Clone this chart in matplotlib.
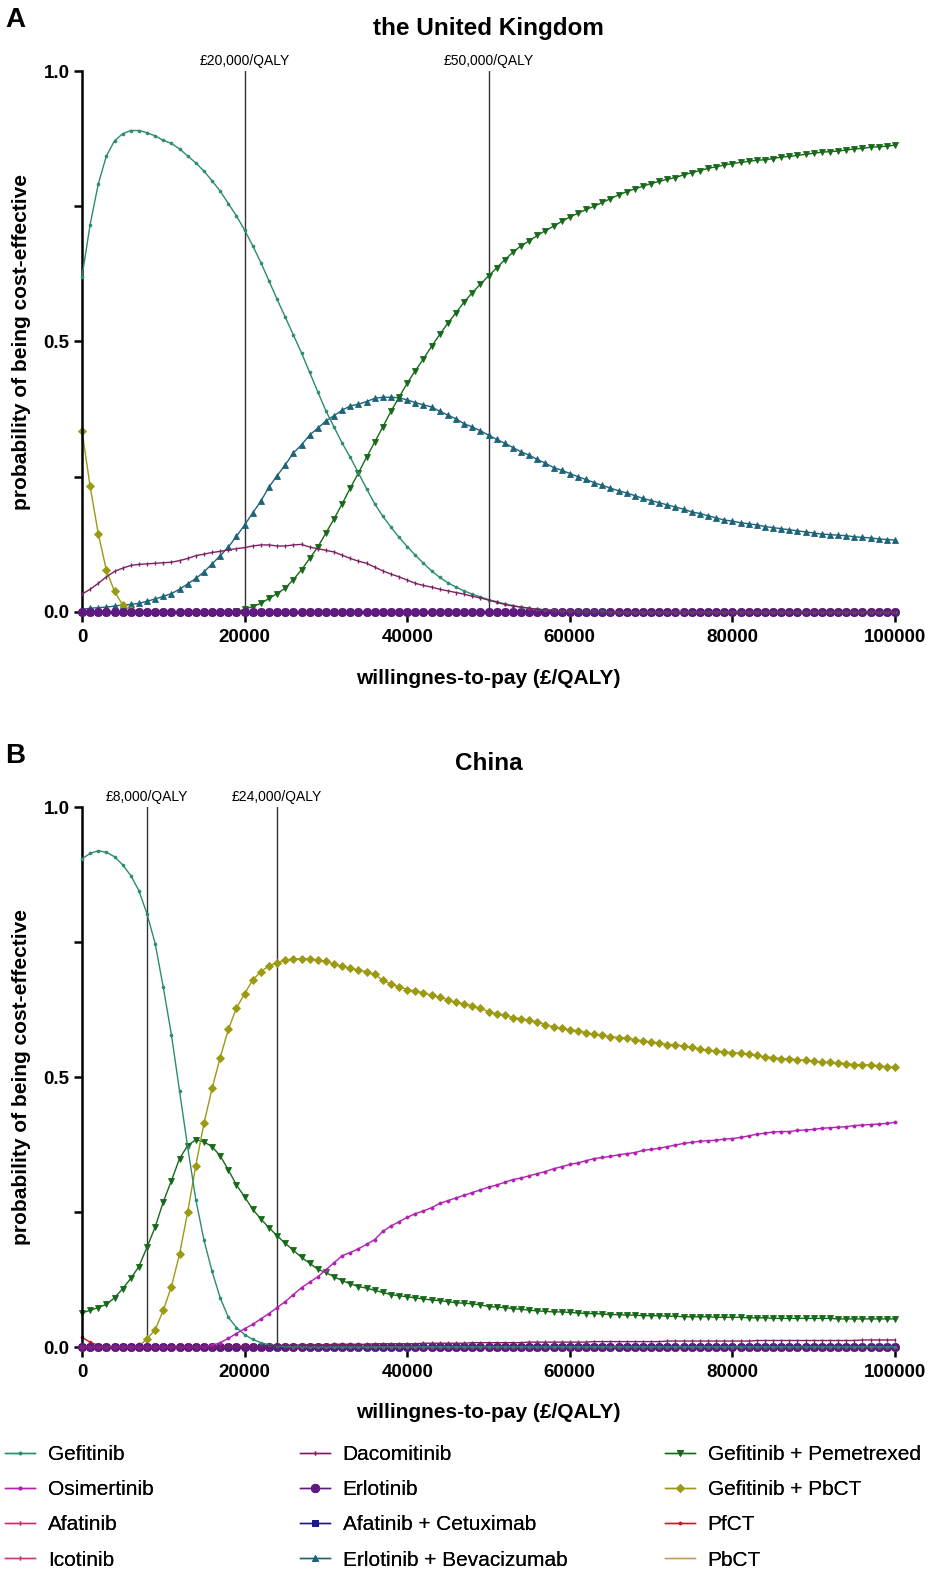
import matplotlib
matplotlib.use("Agg")
import matplotlib.pyplot as plt

plt.rcParams['font.family'] = ['Liberation Sans', 'DejaVu Sans']

# willingness-to-pay grid (GBP/QALY), one point every 1000
wtp = list(range(0, 100001, 1000))

treatments = ["Gefitinib", "Osimertinib", "Afatinib", "Icotinib",
              "Dacomitinib", "Erlotinib", "Afatinib + Cetuximab", "Erlotinib + Bevacizumab",
              "Gefitinib + Pemetrexed", "Gefitinib + PbCT", "PfCT", "PbCT"]

# ---- panel A: the United Kingdom ----
uk_gefitinib = [
    0.620, 0.716, 0.791, 0.843, 0.871, 0.884, 0.890, 0.890, 0.886, 0.880,
    0.872, 0.866, 0.856, 0.843, 0.830, 0.815, 0.797, 0.778, 0.755, 0.732,
    0.706, 0.677, 0.646, 0.612, 0.578, 0.545, 0.512, 0.479, 0.443, 0.407,
    0.372, 0.342, 0.312, 0.286, 0.257, 0.228, 0.200, 0.177, 0.157, 0.138,
    0.121, 0.105, 0.090, 0.076, 0.064, 0.054, 0.046, 0.039, 0.033, 0.028,
    0.023, 0.019, 0.015, 0.012, 0.009, 0.007, 0.005, 0.004, 0.003, 0.002,
    0.002, 0.001, 0.001, 0.001, 0.001, 0.0, 0.0, 0.0, 0.0, 0.0,
    0.0, 0.0, 0.0, 0.0, 0.0, 0.0, 0.0, 0.0, 0.0, 0.0,
    0.0, 0.0, 0.0, 0.0, 0.0, 0.0, 0.0, 0.0, 0.0, 0.0,
    0.0, 0.0, 0.0, 0.0, 0.0, 0.0, 0.0, 0.0, 0.0, 0.0,
    0.0]
uk_dacomitinib = [
    0.033, 0.042, 0.053, 0.065, 0.075, 0.081, 0.086, 0.088, 0.089, 0.090,
    0.091, 0.092, 0.095, 0.099, 0.104, 0.107, 0.110, 0.112, 0.115, 0.117,
    0.119, 0.122, 0.124, 0.124, 0.122, 0.122, 0.124, 0.125, 0.120, 0.117,
    0.114, 0.111, 0.105, 0.099, 0.094, 0.090, 0.083, 0.076, 0.070, 0.065,
    0.059, 0.053, 0.049, 0.046, 0.042, 0.039, 0.036, 0.033, 0.029, 0.026,
    0.022, 0.018, 0.014, 0.011, 0.009, 0.007, 0.005, 0.004, 0.003, 0.002,
    0.002, 0.001, 0.001, 0.001, 0.0, 0.0, 0.0, 0.0, 0.0, 0.0,
    0.0, 0.0, 0.0, 0.0, 0.0, 0.0, 0.0, 0.0, 0.0, 0.0,
    0.0, 0.0, 0.0, 0.0, 0.0, 0.0, 0.0, 0.0, 0.0, 0.0,
    0.0, 0.0, 0.0, 0.0, 0.0, 0.0, 0.0, 0.0, 0.0, 0.0,
    0.0]
uk_erl_bev = [
    0.005, 0.007, 0.008, 0.009, 0.011, 0.013, 0.014, 0.016, 0.020, 0.024,
    0.029, 0.034, 0.042, 0.052, 0.062, 0.074, 0.089, 0.104, 0.120, 0.140,
    0.161, 0.183, 0.205, 0.231, 0.252, 0.272, 0.294, 0.309, 0.327, 0.340,
    0.353, 0.363, 0.373, 0.381, 0.384, 0.389, 0.395, 0.397, 0.397, 0.396,
    0.392, 0.387, 0.383, 0.379, 0.371, 0.364, 0.357, 0.348, 0.342, 0.335,
    0.327, 0.319, 0.312, 0.304, 0.296, 0.290, 0.282, 0.275, 0.267, 0.262,
    0.256, 0.250, 0.245, 0.239, 0.234, 0.229, 0.224, 0.220, 0.215, 0.210,
    0.206, 0.202, 0.198, 0.194, 0.190, 0.185, 0.182, 0.178, 0.174, 0.170,
    0.168, 0.165, 0.163, 0.161, 0.158, 0.156, 0.154, 0.152, 0.150, 0.148,
    0.146, 0.144, 0.143, 0.142, 0.141, 0.139, 0.138, 0.137, 0.135, 0.134,
    0.133]
uk_gef_pem = [
    0.0, 0.0, 0.0, 0.0, 0.0, 0.0, 0.0, 0.0, 0.0, 0.0,
    0.0, 0.0, 0.0, 0.0, 0.0, 0.0, 0.0, 0.0, 0.0, 0.001,
    0.005, 0.010, 0.016, 0.025, 0.034, 0.044, 0.060, 0.078, 0.099, 0.120,
    0.146, 0.172, 0.200, 0.229, 0.257, 0.286, 0.314, 0.342, 0.371, 0.397,
    0.423, 0.446, 0.468, 0.491, 0.513, 0.534, 0.553, 0.573, 0.590, 0.606,
    0.621, 0.636, 0.651, 0.665, 0.677, 0.686, 0.696, 0.705, 0.713, 0.722,
    0.730, 0.737, 0.744, 0.750, 0.757, 0.764, 0.771, 0.777, 0.782, 0.787,
    0.792, 0.796, 0.800, 0.803, 0.808, 0.812, 0.816, 0.820, 0.823, 0.826,
    0.829, 0.831, 0.833, 0.835, 0.836, 0.838, 0.841, 0.842, 0.844, 0.846,
    0.848, 0.850, 0.851, 0.852, 0.854, 0.856, 0.857, 0.859, 0.860, 0.861,
    0.863]
uk_gef_pbct = [0.335, 0.232, 0.145, 0.077, 0.038, 0.013, 0.003] + [0.0] * 94
uk_zero = [0.0] * 101

# ---- panel B: China ----
cn_gefitinib = [
    0.904, 0.914, 0.919, 0.916, 0.908, 0.893, 0.873, 0.845, 0.802, 0.747,
    0.666, 0.578, 0.474, 0.370, 0.273, 0.198, 0.140, 0.091, 0.055, 0.036,
    0.023, 0.014, 0.008, 0.004, 0.002, 0.001] + [0.0] * 75
cn_osimertinib = [
    0.0, 0.0, 0.0, 0.0, 0.0, 0.0, 0.0, 0.0, 0.0, 0.0,
    0.0, 0.0, 0.0, 0.0, 0.0, 0.0, 0.003, 0.008, 0.016, 0.025,
    0.034, 0.042, 0.052, 0.062, 0.073, 0.084, 0.097, 0.110, 0.120, 0.130,
    0.143, 0.156, 0.169, 0.175, 0.182, 0.190, 0.199, 0.214, 0.224, 0.232,
    0.240, 0.247, 0.252, 0.258, 0.266, 0.271, 0.276, 0.281, 0.286, 0.291,
    0.296, 0.300, 0.305, 0.310, 0.313, 0.317, 0.321, 0.325, 0.330, 0.334,
    0.338, 0.341, 0.345, 0.349, 0.351, 0.353, 0.356, 0.358, 0.360, 0.364,
    0.366, 0.368, 0.371, 0.374, 0.377, 0.379, 0.381, 0.382, 0.383, 0.385,
    0.386, 0.388, 0.391, 0.394, 0.396, 0.398, 0.399, 0.399, 0.401, 0.402,
    0.403, 0.405, 0.406, 0.407, 0.408, 0.410, 0.411, 0.412, 0.413, 0.414,
    0.416]
cn_dacomitinib = [
    0.0, 0.0, 0.0, 0.0, 0.0, 0.0, 0.0, 0.0, 0.0, 0.0,
    0.0, 0.0, 0.0, 0.0, 0.0, 0.0, 0.0, 0.0, 0.001, 0.001,
    0.002, 0.002, 0.002, 0.003, 0.003, 0.003, 0.003, 0.004, 0.004, 0.004,
    0.004, 0.005, 0.005, 0.005, 0.005, 0.005, 0.006, 0.006, 0.006, 0.006,
    0.006, 0.006, 0.007, 0.007, 0.007, 0.007, 0.007, 0.007, 0.008, 0.008,
    0.008, 0.008, 0.008, 0.008, 0.008, 0.009, 0.009, 0.009, 0.009, 0.009,
    0.009, 0.009, 0.009, 0.010, 0.010, 0.010, 0.010, 0.010, 0.010, 0.010,
    0.010, 0.010, 0.011, 0.011, 0.011, 0.011, 0.011, 0.011, 0.011, 0.011,
    0.011, 0.011, 0.011, 0.012, 0.012, 0.012, 0.012, 0.012, 0.012, 0.012,
    0.012, 0.012, 0.012, 0.012, 0.012, 0.012, 0.013, 0.013, 0.013, 0.013,
    0.013]
cn_gef_pem = [
    0.063, 0.068, 0.073, 0.079, 0.091, 0.108, 0.127, 0.149, 0.185, 0.222,
    0.269, 0.308, 0.349, 0.373, 0.384, 0.380, 0.371, 0.354, 0.328, 0.300,
    0.278, 0.255, 0.237, 0.221, 0.206, 0.192, 0.179, 0.166, 0.155, 0.144,
    0.138, 0.130, 0.123, 0.117, 0.112, 0.109, 0.105, 0.101, 0.097, 0.095,
    0.093, 0.091, 0.089, 0.087, 0.086, 0.084, 0.082, 0.081, 0.080, 0.078,
    0.075, 0.074, 0.073, 0.071, 0.070, 0.068, 0.067, 0.066, 0.065, 0.065,
    0.064, 0.063, 0.062, 0.062, 0.061, 0.060, 0.060, 0.059, 0.059, 0.058,
    0.058, 0.058, 0.057, 0.057, 0.056, 0.056, 0.056, 0.056, 0.055, 0.055,
    0.055, 0.055, 0.054, 0.054, 0.054, 0.053, 0.053, 0.053, 0.053, 0.053,
    0.053, 0.053, 0.053, 0.052, 0.052, 0.052, 0.052, 0.052, 0.052, 0.052,
    0.052]
cn_gef_pbct = [
    0.0, 0.0, 0.0, 0.0, 0.0, 0.0, 0.0, 0.002, 0.015, 0.032,
    0.068, 0.112, 0.172, 0.250, 0.336, 0.414, 0.479, 0.536, 0.588, 0.628,
    0.654, 0.680, 0.695, 0.706, 0.712, 0.716, 0.719, 0.719, 0.719, 0.717,
    0.714, 0.709, 0.705, 0.701, 0.698, 0.695, 0.690, 0.679, 0.672, 0.667,
    0.662, 0.659, 0.656, 0.651, 0.648, 0.643, 0.638, 0.635, 0.632, 0.627,
    0.621, 0.617, 0.614, 0.610, 0.608, 0.605, 0.602, 0.597, 0.593, 0.590,
    0.587, 0.586, 0.582, 0.579, 0.577, 0.575, 0.573, 0.573, 0.569, 0.567,
    0.565, 0.563, 0.560, 0.560, 0.557, 0.555, 0.552, 0.550, 0.548, 0.547,
    0.545, 0.544, 0.542, 0.540, 0.537, 0.536, 0.534, 0.534, 0.532, 0.531,
    0.529, 0.528, 0.527, 0.526, 0.525, 0.523, 0.523, 0.522, 0.521, 0.519,
    0.518]
cn_pfct = [0.018, 0.009, 0.003] + [0.0] * 98
cn_zero = [0.0] * 101

uk_series = [uk_gefitinib, uk_zero, uk_zero, uk_zero,
             uk_dacomitinib, uk_zero, uk_zero, uk_erl_bev,
             uk_gef_pem, uk_gef_pbct, uk_zero, uk_zero]
cn_series = [cn_gefitinib, cn_osimertinib, cn_zero, cn_zero,
             cn_dacomitinib, cn_zero, cn_zero, cn_zero,
             cn_gef_pem, cn_gef_pbct, cn_pfct, cn_zero]

uk_thresholds = [20000, 50000]
uk_threshold_labels = ["£20,000/QALY", "£50,000/QALY"]
cn_thresholds = [8000, 24000]
cn_threshold_labels = ["£8,000/QALY", "£24,000/QALY"]

# line styles: colour, marker, marker size, zorder
styles = {
    "Gefitinib": ("#2B8C6B", "o", 2.0, 3.0),
    "Osimertinib": ("#B21FB2", "o", 2.2, 3.0),
    "Afatinib": ("#E3226C", "|", 3.0, 2.4),
    "Icotinib": ("#C83A74", "|", 3.0, 2.4),
    "Dacomitinib": ("#7D2062", "|", 3.0, 3.0),
    "Erlotinib": ("#5E1A80", "o", 6.0, 2.6),
    "Afatinib + Cetuximab": ("#1A1A8C", "s", 4.5, 2.2),
    "Erlotinib + Bevacizumab": ("#1D6479", "^", 5.0, 2.2),
    "Gefitinib + Pemetrexed": ("#17691A", "v", 5.0, 2.2),
    "Gefitinib + PbCT": ("#9B9A12", "D", 3.6, 2.2),
    "PfCT": ("#C41E1E", "o", 2.0, 2.4),
    "PbCT": ("#C89A5A", "", 0, 2.1),
}

W, H = 946, 1595
AX_LEFT, AX_RIGHT = 82, 895


def px_rect(top, bottom):
    return [AX_LEFT / W, 1 - bottom / H, (AX_RIGHT - AX_LEFT) / W, (bottom - top) / H]


def draw_panel(fig, top, bottom, series, thresholds, threshold_labels, title, letter):
    ax = fig.add_axes(px_rect(top, bottom))
    for name, ys in zip(treatments, series):
        color, marker, ms, z = styles[name]
        # keep the all-zero curves under Erlotinib, like the original
        if max(ys) == 0 and name != "Erlotinib":
            z = min(z, 2.3)
        ax.plot(wtp, ys, color=color, lw=1.0, marker=marker, ms=ms,
                mew=1.0 if marker == "|" else 0.6, label=name, zorder=z, clip_on=False)

    # thresholds
    for x, lab in zip(thresholds, threshold_labels):
        ax.plot([x, x], [0, 1], color="#333333", lw=1.0, zorder=1)
        ax.text(x, 1.019, lab, ha="center", va="center", fontsize=10)

    ax.set_xlim(0, 100000)
    ax.set_ylim(0, 1)
    ax.set_xticks([0, 20000, 40000, 60000, 80000, 100000])
    ax.set_yticks([0, 0.5, 1.0])
    ax.set_yticklabels(["0.0", "0.5", "1.0"])
    ax.set_yticks([0.25, 0.75], minor=True)
    for s in ["top", "right"]:
        ax.spines[s].set_visible(False)
    for s in ["left", "bottom"]:
        ax.spines[s].set_linewidth(1.8)
    ax.tick_params(axis="x", which="major", length=7, width=1.8, pad=5, labelsize=13.5)
    ax.tick_params(axis="y", which="both", length=6, width=1.8, pad=3, labelsize=13.5)
    for lab in ax.get_xticklabels() + ax.get_yticklabels():
        lab.set_fontweight("bold")

    mid_x = (AX_LEFT + AX_RIGHT) / 2 / W
    fig.text(mid_x, 1 - (top - 43) / H, title, ha="center", va="center",
             fontsize=17.5, fontweight="bold")
    fig.text(5 / W, 1 - (top - 51) / H, letter, ha="left", va="center",
             fontsize=20, fontweight="bold")
    fig.text(22 / W, 1 - (top + bottom) / 2 / H, "probability of being cost-effective",
             rotation=90, ha="center", va="center", fontsize=15, fontweight="bold")
    fig.text(mid_x, 1 - (bottom + 66) / H, "willingnes-to-pay (£/QALY)",
             ha="center", va="center", fontsize=15, fontweight="bold")
    return ax


fig = plt.figure(figsize=(W / 100, H / 100), dpi=100)
ax_a = draw_panel(fig, 71, 612, uk_series, uk_thresholds, uk_threshold_labels,
                  "the United Kingdom", "A")
ax_b = draw_panel(fig, 807, 1347, cn_series, cn_thresholds, cn_threshold_labels,
                  "China", "B")

# legend in three fixed columns, like the original
handles, labels = ax_b.get_legend_handles_labels()
col_x = [5, 300, 665]
for i, x in enumerate(col_x):
    leg = fig.legend(handles[i * 4:(i + 1) * 4], labels[i * 4:(i + 1) * 4],
                     loc="upper left", bbox_to_anchor=(x / W, 1 - 1445 / H),
                     frameon=False, fontsize=15, ncol=1, borderpad=0, borderaxespad=0,
                     handlelength=1.45, handletextpad=0.6, labelspacing=0.78,
                     numpoints=1)
    fig.add_artist(leg)

fig.savefig("out.png", dpi=100)
